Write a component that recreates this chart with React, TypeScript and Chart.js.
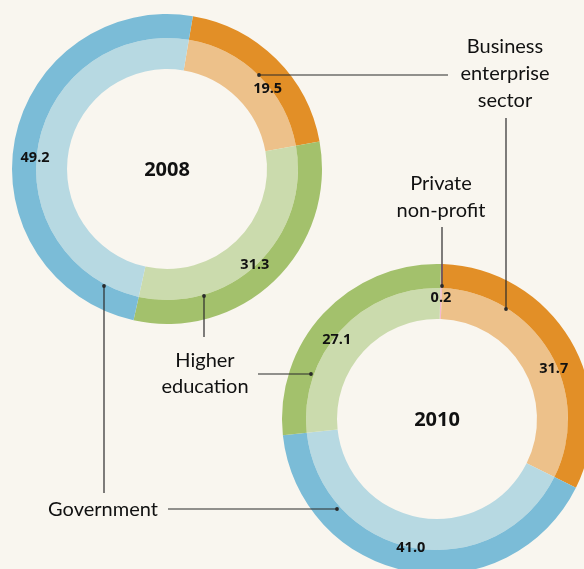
import React, { useEffect, useRef } from "react";
import { Chart, registerables } from "chart.js";
Chart.register(...registerables);

// ---- data ----
const years = ["2008", "2010"];
const sectors2008 = ["Business enterprise sector", "Higher education", "Government"];
const values2008 = [19.5, 31.3, 49.2];
const sectors2010 = ["Private non-profit", "Business enterprise sector", "Government", "Higher education"];
const values2010 = [0.2, 31.7, 41.0, 27.1];

// ---- styles ----
const BG = "#f9f6ef";
const TEXT = "#111111";
const LINE = "#2a2a2a";
const outerColor: Record<string, string> = {
  "Business enterprise sector": "#e28f27",
  "Higher education": "#a3c16c",
  "Government": "#7bbcd7",
  "Private non-profit": "#f09abd",
};
const innerColor: Record<string, string> = {
  "Business enterprise sector": "#edc18a",
  "Higher education": "#cbdbad",
  "Government": "#b7d9e2",
  "Private non-profit": "#f4b8d0",
};

// label placement along each arc (fraction of arc, radial offset from ring boundary)
const labelFrac2008 = [0.59, 0.51, 0.467];
const labelDr2008 = [-1.5, -1.5, 1.5];
const labelFrac2010 = [0.5, 0.56, 0.51, 0.46];
const labelDr2010 = [-9, -3.4, -1, -2.3];

function makeLabelPlugin(values: number[], fracs: number[], drs: number[], year: string) {
  return {
    id: "valueLabels" + year,
    afterDatasetsDraw(chart: any) {
      const ctx = chart.ctx;
      const meta = chart.getDatasetMeta(0);
      ctx.save();
      ctx.fillStyle = TEXT;
      ctx.textAlign = "center";
      ctx.textBaseline = "alphabetic";
      ctx.font = "bold 14.5px 'Open Sans'";
      let cx = 0, cy = 0;
      meta.data.forEach((arc: any, i: number) => {
        const p = arc.getProps(["x", "y", "startAngle", "endAngle", "innerRadius"], true);
        cx = p.x; cy = p.y;
        const a = p.startAngle + fracs[i] * (p.endAngle - p.startAngle);
        const r = p.innerRadius + drs[i];
        ctx.fillText(values[i].toFixed(1), p.x + r * Math.cos(a), p.y + r * Math.sin(a) + 5.3);
      });
      ctx.font = "bold 20px 'Open Sans'";
      ctx.fillText(year, cx, cy + 7);
      ctx.restore();
    },
  };
}

function Donut(props: {
  labels: string[]; values: number[]; rotation: number; year: string;
  fracs: number[]; drs: number[]; left: number; top: number; w: number; h: number;
}) {
  const ref = useRef<HTMLCanvasElement | null>(null);
  useEffect(() => {
    if (!ref.current) return;
    const chart = new Chart(ref.current, {
      type: "doughnut",
      data: {
        labels: props.labels,
        datasets: [
          { data: props.values, backgroundColor: props.labels.map((l) => outerColor[l]), borderWidth: 0, weight: 24 } as any,
          { data: props.values, backgroundColor: props.labels.map((l) => innerColor[l]), borderWidth: 0, weight: 31 } as any,
        ],
      },
      options: {
        animation: false,
        responsive: false,
        devicePixelRatio: 1,
        radius: 155,
        cutout: "64.5%",
        rotation: props.rotation,
        layout: { padding: 0 },
        plugins: { legend: { display: false }, tooltip: { enabled: false } },
      } as any,
      plugins: [makeLabelPlugin(props.values, props.fracs, props.drs, props.year)],
    });
    return () => chart.destroy();
  }, []);
  return (
    <canvas
      ref={ref}
      width={props.w}
      height={props.h}
      style={{ position: "absolute", left: props.left, top: props.top, width: props.w, height: props.h }}
    />
  );
}

function Dot({ x, y }: { x: number; y: number }) {
  return <circle cx={x} cy={y} r={1.9} fill={LINE} />;
}

export default function App() {
  useEffect(() => {
    document.body.style.margin = "0";
    document.body.style.background = BG;
  }, []);
  const font = "Lato, 'Open Sans', sans-serif";
  const txt = { fontFamily: font, fontSize: 20, fill: TEXT, textAnchor: "middle" as const };
  return (
    <div style={{ position: "relative", width: 584, height: 569, overflow: "hidden", background: BG }}>
      <Donut labels={sectors2008} values={values2008} rotation={9.6} year={years[0]}
        fracs={labelFrac2008} drs={labelDr2008} left={0} top={0} w={334} h={338} />
      <Donut labels={sectors2010} values={values2010} rotation={1.5} year={years[1]}
        fracs={labelFrac2010} drs={labelDr2010} left={270} top={252} w={334} h={334} />
      <svg width={584} height={569} style={{ position: "absolute", left: 0, top: 0 }}>
        <g stroke={LINE} strokeWidth={1.2} fill="none">
          <line x1={259} y1={75} x2={448} y2={75} />
          <line x1={506} y1={118} x2={506} y2={309} />
          <line x1={442} y1={227} x2={442} y2={286} />
          <line x1={204} y1={296} x2={204} y2={337} />
          <line x1={258} y1={374} x2={311} y2={374} />
          <line x1={104} y1={286} x2={104} y2={493} />
          <line x1={168} y1={509} x2={337} y2={509} />
        </g>
        <Dot x={259} y={75} />
        <Dot x={506} y={309} />
        <Dot x={442} y={286} />
        <Dot x={204} y={296} />
        <Dot x={311} y={374} />
        <Dot x={104} y={286} />
        <Dot x={337} y={509} />
        <text {...txt} x={505} y={53}>Business</text>
        <text {...txt} x={505} y={80}>enterprise</text>
        <text {...txt} x={505} y={107}>sector</text>
        <text {...txt} x={441} y={190}>Private</text>
        <text {...txt} x={441} y={217}>non-profit</text>
        <text {...txt} x={205} y={367}>Higher</text>
        <text {...txt} x={205} y={393}>education</text>
        <text {...txt} x={103} y={516}>Government</text>
      </svg>
    </div>
  );
}
